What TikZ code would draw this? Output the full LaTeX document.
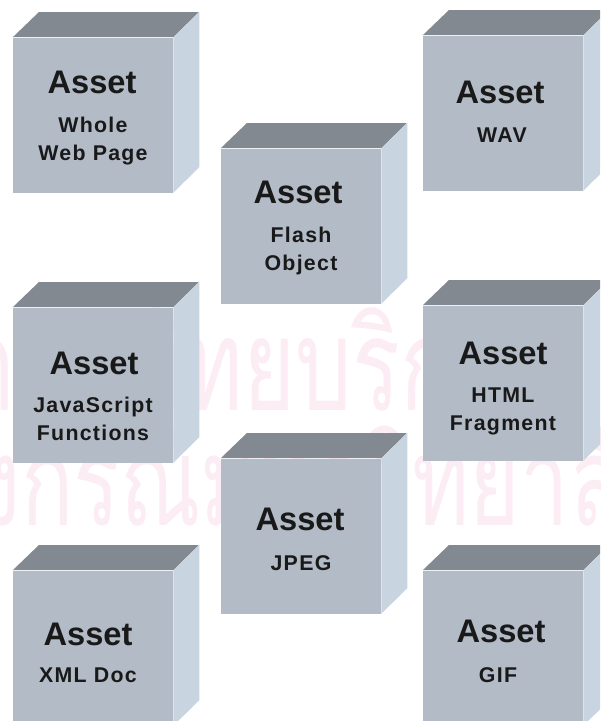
\documentclass[tikz,border=0pt]{standalone}
\usepackage{fontspec}
\setmainfont{Liberation Sans}
\newfontfamily\titlefont{Liberation Sans}
\newfontfamily\subfont{Liberation Sans}[LetterSpace=6]
\newfontfamily\thaifont[Script=Thai]{Loma}
\usepackage{xcolor}
\usepackage{tikz}
\definecolor{frontgrey}{RGB}{179,187,199}
\definecolor{topgrey}{RGB}{131,137,145}
\definecolor{sidegrey}{RGB}{201,212,225}
\definecolor{markpink}{RGB}{252,236,243}

\begin{document}
\begin{tikzpicture}[x=0.75pt,y=-0.75pt,
	front/.style={rectangle,fill=frontgrey,minimum width=120pt,minimum height=116.25pt,inner sep=0pt},
	topface/.style={fill=topgrey},
	sideface/.style={fill=sidegrey},
	title/.style={font=\titlefont\bfseries\fontsize{24.5}{25}\selectfont,text=black!90,inner sep=0pt},
	sub/.style={font=\subfont\bfseries\fontsize{16}{21}\selectfont,align=center,text=black!90,inner sep=0pt},
	wmark/.style={font=\thaifont\fontsize{62}{62}\selectfont,text=markpink,inner sep=0pt,anchor=base}]
	\clip (0,0) rectangle (600,721);
	\node[wmark] (inst) at (205,410) {\scalebox{1.08}[1.55]{สถาบันวิทยบริการ}};
	\node[wmark] (univ) at (220,525) {\scalebox{1.05}[1.5]{จุฬาลงกรณ์มหาวิทยาลัย}};
	\node[front] (web) at (93,115) {};
	\node[front] (flash) at (301,226) {};
	\node[front] (wav) at (503,113) {};
	\node[front] (js) at (93,385) {};
	\node[front] (html) at (503,383) {};
	\node[front] (jpeg) at (301,536) {};
	\node[front] (xml) at (93,648) {};
	\node[front] (gif) at (503,648) {};
	\fill[topface] (web.north west) -- ++(26,-25) -- ++(160,0) -- (web.north east) -- cycle;
	\fill[sideface] (web.north east) -- ++(26,-25) -- ++(0,155) -- (web.south east) -- cycle;
	\fill[topface] (flash.north west) -- ++(26,-25) -- ++(160,0) -- (flash.north east) -- cycle;
	\fill[sideface] (flash.north east) -- ++(26,-25) -- ++(0,155) -- (flash.south east) -- cycle;
	\fill[topface] (wav.north west) -- ++(26,-25) -- ++(160,0) -- (wav.north east) -- cycle;
	\fill[sideface] (wav.north east) -- ++(26,-25) -- ++(0,155) -- (wav.south east) -- cycle;
	\fill[topface] (js.north west) -- ++(26,-25) -- ++(160,0) -- (js.north east) -- cycle;
	\fill[sideface] (js.north east) -- ++(26,-25) -- ++(0,155) -- (js.south east) -- cycle;
	\fill[topface] (html.north west) -- ++(26,-25) -- ++(160,0) -- (html.north east) -- cycle;
	\fill[sideface] (html.north east) -- ++(26,-25) -- ++(0,155) -- (html.south east) -- cycle;
	\fill[topface] (jpeg.north west) -- ++(26,-25) -- ++(160,0) -- (jpeg.north east) -- cycle;
	\fill[sideface] (jpeg.north east) -- ++(26,-25) -- ++(0,155) -- (jpeg.south east) -- cycle;
	\fill[topface] (xml.north west) -- ++(26,-25) -- ++(160,0) -- (xml.north east) -- cycle;
	\fill[sideface] (xml.north east) -- ++(26,-25) -- ++(0,155) -- (xml.south east) -- cycle;
	\fill[topface] (gif.north west) -- ++(26,-25) -- ++(160,0) -- (gif.north east) -- cycle;
	\fill[sideface] (gif.north east) -- ++(26,-25) -- ++(0,155) -- (gif.south east) -- cycle;
	\node[title] (web-t) at (92,82) {Asset};
	\node[sub] (web-s) at (93,141) {Whole\\Web Page};
	\node[title] (flash-t) at (298,192) {Asset};
	\node[sub] (flash-s) at (301,251) {Flash\\Object};
	\node[title] (wav-t) at (500,92) {Asset};
	\node[sub] (wav-s) at (502,135) {WAV};
	\node[title] (js-t) at (94,363) {Asset};
	\node[sub] (js-s) at (93,419) {JavaScript\\Functions};
	\node[title] (html-t) at (503,353) {Asset};
	\node[sub] (html-s) at (503,411) {HTML\\Fragment};
	\node[title] (jpeg-t) at (300,519) {Asset};
	\node[sub] (jpeg-s) at (301,563) {JPEG};
	\node[title] (xml-t) at (88,634) {Asset};
	\node[sub] (xml-s) at (88,675) {XML Doc};
	\node[title] (gif-t) at (501,631) {Asset};
	\node[sub] (gif-s) at (498,675) {GIF};
\end{tikzpicture}
\end{document}
